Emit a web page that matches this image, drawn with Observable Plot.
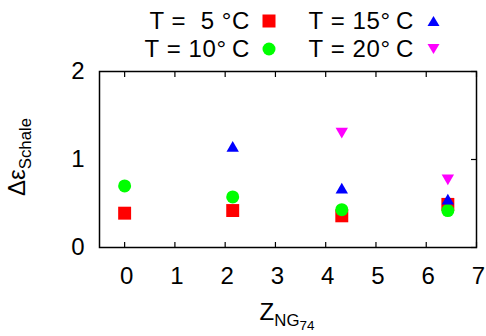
<!DOCTYPE html>
<html>
<head>
<meta charset="utf-8">
<script src="https://cdn.jsdelivr.net/npm/d3@7"></script>
<script src="https://cdn.jsdelivr.net/npm/@observablehq/plot@0.6"></script>
<style>
  html, body { margin: 0; padding: 0; background: #fff; }
  #wrap { position: relative; width: 486px; height: 336px; font-family: "Liberation Sans", Arial, sans-serif; color: #000; overflow: hidden; }
  #wrap svg.plot { position: absolute; left: 0; top: 0; }
  .leg { position: absolute; font-size: 24px; letter-spacing: 0.6px; white-space: pre; line-height: 28px; }
  .leg .row { display: flex; align-items: center; justify-content: flex-end; height: 28px; }
  .leg .sym { width: 38px; display: flex; justify-content: center; }
  #ylab { position: absolute; left: 17px; top: 157px; transform: translate(-50%, -50%) rotate(-90deg); font-size: 24px; white-space: nowrap; }
  #xlab { position: absolute; left: 287px; top: 312px; transform: translate(-50%, -50%); font-size: 24px; white-space: nowrap; }
  sub { font-size: 0.7em; vertical-align: -0.35em; line-height: 0; }
  sub sub { font-size: 0.8em; }
</style>
</head>
<body>
<div id="wrap"></div>
<script>
// ---- data ----
const zNG = [0, 2.15, 4.32, 6.43];
const t5  = [0.39, 0.42, 0.36, 0.49];
const t10 = [0.70, 0.575, 0.43, 0.42];
const t15 = [null, 1.13, 0.655, 0.53];
const t20 = [null, null, 1.32, 0.79];
const seriesNames = ["T =  5 °C", "T = 10°\u2009C", "T = 15°\u2009C", "T = 20°\u2009C"];
const seriesColors = ["#ff0000", "#00ff00", "#0000ff", "#ff00ff"];
const xTicks = [0, 1, 2, 3, 4, 5, 6, 7];
const yTicks = [0, 1, 2];

// inverted triangle symbol
const sqrt3 = Math.sqrt(3);
const triangleDown = {
  draw(context, size) {
    const y = -Math.sqrt(size / (sqrt3 * 3));
    context.moveTo(0, -y * 2);
    context.lineTo(-sqrt3 * y, y);
    context.lineTo(sqrt3 * y, y);
    context.closePath();
  }
};

const toRows = (vals) => zNG.map((z, i) => ({z, v: vals[i]})).filter(d => d.v != null);

const chart = Plot.plot({
  width: 486,
  height: 336,
  marginLeft: 99,
  marginRight: 10,
  marginTop: 71,
  marginBottom: 89,
  style: {fontFamily: "'Liberation Sans', Arial, sans-serif", fontSize: "24px", background: "transparent"},
  x: {domain: [-0.5, 7]},
  y: {domain: [0, 2]},
  marks: [
    Plot.frame({stroke: "#000", strokeWidth: 1.5}),
    // tick labels
    Plot.axisX(xTicks, {anchor: "bottom", tickSize: 0, tickPadding: 19, dx: 2, fontSize: 24, tickFormat: d => String(d), label: null}),
    Plot.axisY(yTicks, {anchor: "left", tickSize: 0, tickPadding: 15, fontSize: 24, tickFormat: d => String(d), label: null}),
    // inward ticks
    Plot.axisX(xTicks, {anchor: "bottom", tickSize: 5, dy: -5, tickFormat: () => "", label: null, strokeWidth: 1.2}),
    Plot.axisX(xTicks, {anchor: "top", tickSize: 5, dy: 5, tickFormat: () => "", label: null, strokeWidth: 1.2}),
    Plot.axisY(yTicks, {anchor: "right", tickSize: 6, dx: -6, tickFormat: () => "", label: null, strokeWidth: 1.2}),
    // data
    Plot.dot(toRows(t5),  {x: "z", y: "v", symbol: "square", r: 7.3, fill: seriesColors[0]}),
    Plot.dot(toRows(t10), {x: "z", y: "v", symbol: "circle", r: 6.5, fill: seriesColors[1]}),
    Plot.dot(toRows(t15), {x: "z", y: "v", symbol: "triangle", r: 4.6, fill: seriesColors[2]}),
    Plot.dot(toRows(t20), {x: "z", y: "v", symbol: triangleDown, r: 4.6, fill: seriesColors[3]})
  ]
});
chart.classList.add("plot");
const wrap = document.getElementById("wrap");
wrap.appendChild(chart);

// legend
const symSvg = [
  `<svg width="14" height="14"><rect x="0.5" y="0.5" width="13" height="13" fill="${seriesColors[0]}"/></svg>`,
  `<svg width="14" height="14"><circle cx="7" cy="7" r="6.5" fill="${seriesColors[1]}"/></svg>`,
  `<svg width="13" height="12"><path d="M6.5,1L12.5,11L0.5,11Z" fill="${seriesColors[2]}"/></svg>`,
  `<svg width="13" height="12"><path d="M6.5,11L12.5,1L0.5,1Z" fill="${seriesColors[3]}"/></svg>`
];
const cols = [{right: 486 - 288, items: [0, 1]}, {right: 486 - 452, items: [2, 3]}];
cols.forEach(c => {
  const div = document.createElement("div");
  div.className = "leg";
  div.style.right = c.right + "px";
  div.style.top = "7px";
  div.innerHTML = c.items.map(i => `<div class="row"><span class="txt">${seriesNames[i]}</span><span class="sym">${symSvg[i]}</span></div>`).join("");
  wrap.appendChild(div);
});

// axis labels
const yl = document.createElement("div");
yl.id = "ylab";
yl.innerHTML = "Δε<sub>Schale</sub>";
wrap.appendChild(yl);
const xl = document.createElement("div");
xl.id = "xlab";
xl.innerHTML = "Z<sub>NG<sub>74</sub></sub>";
wrap.appendChild(xl);
</script>
</body>
</html>
